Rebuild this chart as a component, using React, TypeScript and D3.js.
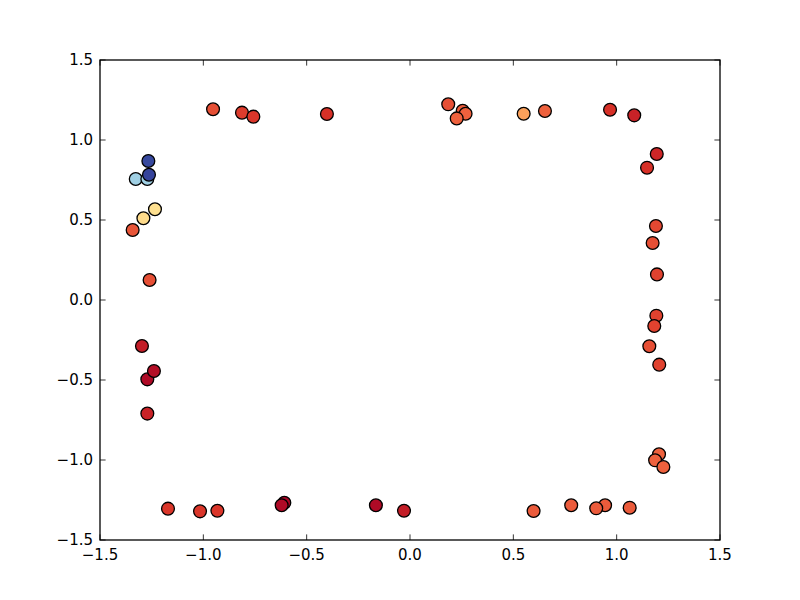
import React from "react";
import * as d3 from "d3";

const xs = [
  -0.953, -0.813, -0.758, -0.402, 0.185, 0.255, 0.269, 0.226, 0.55, 0.653, 0.968, 1.085,
  1.194, 1.147, 1.19, 1.174, 1.195, 1.192, 1.182, 1.158, 1.206, 1.205, 1.186, 1.226,
  1.063, 0.944, 0.901, 0.78, 0.598, -0.029, -0.165, -0.608, -0.621, -0.932, -1.016, -1.171,
  -1.271, -1.271, -1.239, -1.297, -1.26, -1.342, -1.29, -1.234, -1.327, -1.271, -1.263, -1.266,
];
const ys = [
  1.192, 1.171, 1.146, 1.1625, 1.223, 1.183, 1.164, 1.135, 1.164, 1.181, 1.189, 1.154,
  0.9125, 0.827, 0.4625, 0.356, 0.16, -0.098, -0.1625, -0.289, -0.404, -0.964, -1.002, -1.044,
  -1.298, -1.283, -1.302, -1.283, -1.319, -1.317, -1.283, -1.267, -1.283, -1.317, -1.321, -1.304,
  -0.71, -0.496, -0.444, -0.2875, 0.125, 0.4375, 0.511, 0.567, 0.756, 0.756, 0.783, 0.869,
];
const cs = [
  0.15, 0.12, 0.11, 0.1, 0.15, 0.17, 0.18, 0.18, 0.28, 0.18, 0.1, 0.07,
  0.08, 0.1, 0.14, 0.15, 0.13, 0.13, 0.13, 0.15, 0.13, 0.18, 0.18, 0.18,
  0.17, 0.17, 0.17, 0.17, 0.17, 0.06, 0.02, 0.01, 0.02, 0.11, 0.11, 0.11,
  0.07, 0.02, 0.03, 0.06, 0.15, 0.16, 0.39, 0.4, 0.72, 0.72, 0.98, 0.97,
];
const ticks = [-1.5, -1.0, -0.5, 0.0, 0.5, 1.0, 1.5];
const rdylbu = [
  "#a50026", "#d73027", "#f46d43", "#fdae61", "#fee090", "#ffffbf",
  "#e0f3f8", "#abd9e9", "#74add1", "#4575b4", "#313695",
];

const W = 800, H = 600;
const L = 100, R = 720, T = 60, B = 540;

export default function App() {
  const x = d3.scaleLinear().domain([-1.5, 1.5]).range([L, R]);
  const y = d3.scaleLinear().domain([-1.5, 1.5]).range([B, T]);
  const color = d3
    .scaleLinear<string>()
    .domain(rdylbu.map((_, i) => i / (rdylbu.length - 1)))
    .range(rdylbu)
    .interpolate(d3.interpolateRgb);
  const fmt = (v: number) => d3.format(".1f")(v).replace("-", "\u2212");
  const tl = 5.6;
  const font = "DejaVu Sans, sans-serif";
  return (
    <svg width={W} height={H} style={{ position: "absolute", left: 0, top: 0, background: "#fff" }}>
      <rect x={0} y={0} width={W} height={H} fill="#fff" />
      {xs.map((xv, i) => (
        <circle
          key={i}
          cx={x(xv)}
          cy={y(ys[i])}
          r={6.4}
          fill={color(cs[i])}
          stroke="#000"
          strokeWidth={1.3}
        />
      ))}
      <rect x={L} y={T} width={R - L} height={B - T} fill="none" stroke="#000" strokeWidth={1.3} />
      {ticks.map((t) => (
        <g key={"x" + t}>
          <line x1={x(t)} x2={x(t)} y1={B} y2={B - tl} stroke="#000" strokeWidth={0.8} />
          <line x1={x(t)} x2={x(t)} y1={T} y2={T + tl} stroke="#000" strokeWidth={0.8} />
          <text x={x(t)} y={B + 6} dy="0.9em" textAnchor="middle" fontFamily={font} fontSize={15}>
            {fmt(t)}
          </text>
        </g>
      ))}
      {ticks.map((t) => (
        <g key={"y" + t}>
          <line x1={L} x2={L + tl} y1={y(t)} y2={y(t)} stroke="#000" strokeWidth={0.8} />
          <line x1={R} x2={R - tl} y1={y(t)} y2={y(t)} stroke="#000" strokeWidth={0.8} />
          <text x={L - 7} y={y(t)} dy="0.36em" textAnchor="end" fontFamily={font} fontSize={15}>
            {fmt(t)}
          </text>
        </g>
      ))}
    </svg>
  );
}
